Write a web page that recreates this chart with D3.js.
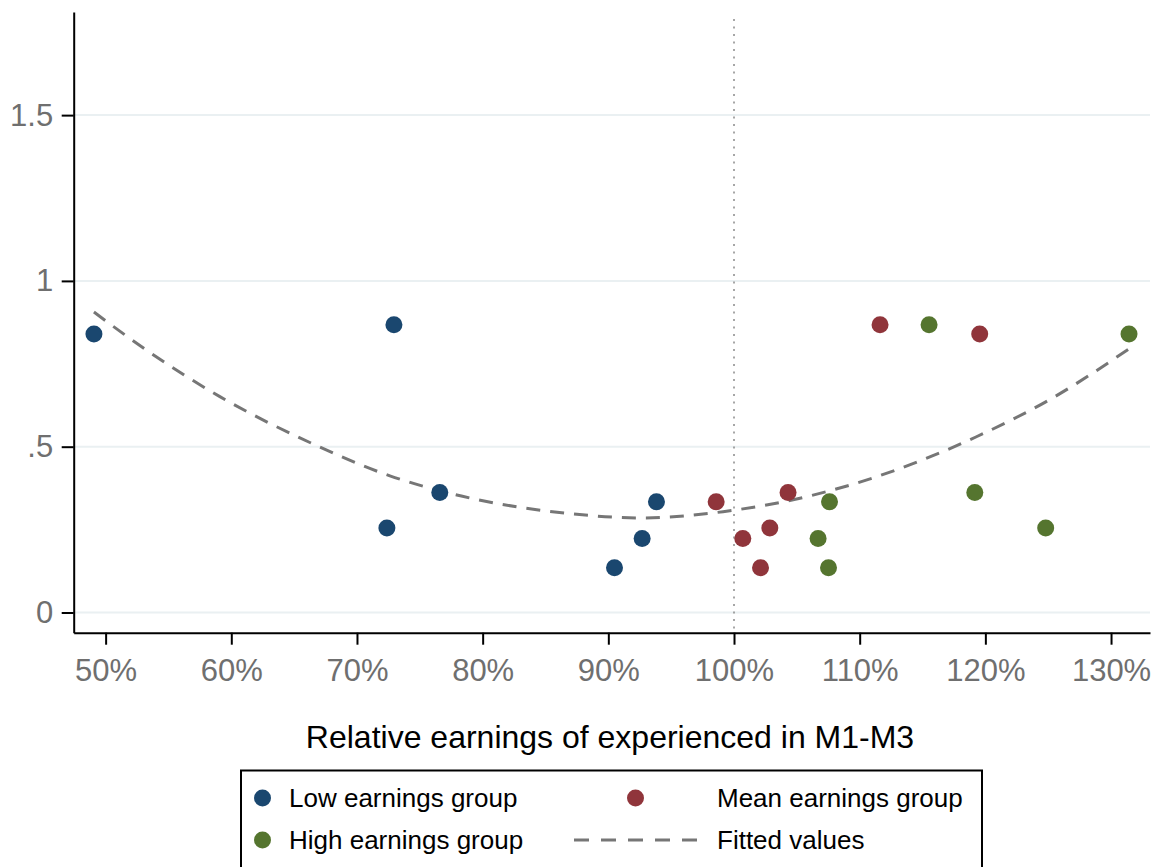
<!DOCTYPE html>
<html>
<head>
<meta charset="utf-8">
<script src="https://cdn.jsdelivr.net/npm/d3@7"></script>
<style>
  body { margin: 0; background: #fff; }
  svg { display: block; font-family: "Liberation Sans", Arial, sans-serif; }
</style>
</head>
<body>
<svg id="chart" width="1169" height="867"></svg>
<script>
// values (x in %, y as plotted)
var lowX  = [49.07, 72.94, 72.38, 76.59, 90.49, 92.69, 93.83];
var lowY  = [0.840, 0.868, 0.255, 0.362, 0.135, 0.223, 0.334];
var meanX = [98.58, 100.70, 102.11, 102.85, 104.30, 111.62, 119.55];
var meanY = [0.334, 0.223, 0.135, 0.255, 0.362, 0.868, 0.840];
var highX = [107.60, 106.69, 107.52, 124.80, 119.16, 115.52, 131.43];
var highY = [0.334, 0.223, 0.135, 0.255, 0.362, 0.868, 0.840];

var fitX = [49.07, 53.26, 59.09, 66.52, 72.62, 77.13, 87.20, 92.77, 99.13, 106.29, 111.07, 119.29, 125.12, 131.43];
var fitY = [0.906, 0.791, 0.651, 0.508, 0.412, 0.362, 0.297, 0.285, 0.304, 0.354, 0.406, 0.530, 0.642, 0.795];

var xTicks = [50, 60, 70, 80, 90, 100, 110, 120, 130];
var yTicks = [0, 0.5, 1, 1.5];
var yTickLabels = ["0", ".5", "1", "1.5"];
var refLine = 100;

var xTitle = "Relative earnings of experienced in M1-M3";
var legendLabels = ["Low earnings group", "Mean earnings group", "High earnings group", "Fitted values"];

var colLow = "#1a476f", colMean = "#90353b", colHigh = "#55752f", colFit = "#767676";

var svg = d3.select("#chart");

var x = d3.scaleLinear().domain([47.46, 133.1]).range([73.7, 1150]);
var y = d3.scaleLinear().domain([-0.061, 1.811]).range([632.7, 12]);

// grid lines
svg.append("g").selectAll("line").data(yTicks).enter().append("line")
	.attr("x1", x.range()[0]).attr("x2", x.range()[1])
	.attr("y1", function (d) { return y(d); })
	.attr("y2", function (d) { return y(d); })
	.attr("stroke", "#eaf0f2").attr("stroke-width", 2);

// reference line at 100%
svg.append("line")
	.attr("x1", x(refLine)).attr("x2", x(refLine))
	.attr("y1", y(1.79)).attr("y2", y.range()[0])
	.attr("stroke", "#8a8a8a").attr("stroke-width", 1.5)
	.attr("stroke-dasharray", "2 5.5");

// fitted curve
var fitData = fitX.map(function (v, i) { return [v, fitY[i]]; });
svg.append("path")
	.datum(fitData)
	.attr("fill", "none")
	.attr("stroke", colFit).attr("stroke-width", 3)
	.attr("stroke-dasharray", "14 10")
	.attr("d", d3.line().curve(d3.curveMonotoneX)
		.x(function (d) { return x(d[0]); })
		.y(function (d) { return y(d[1]); }));

function drawPoints(xs, ys, color) {
	var pts = xs.map(function (v, i) { return [v, ys[i]]; });
	svg.append("g").selectAll("circle").data(pts).enter().append("circle")
		.attr("cx", function (d) { return x(d[0]); })
		.attr("cy", function (d) { return y(d[1]); })
		.attr("r", 8.5)
		.attr("fill", color);
}
drawPoints(lowX, lowY, colLow);
drawPoints(meanX, meanY, colMean);
drawPoints(highX, highY, colHigh);

// axes
var xAxis = svg.append("g")
	.attr("transform", "translate(0," + y.range()[0] + ")")
	.call(d3.axisBottom(x).tickValues(xTicks)
		.tickFormat(function (d) { return d + "%"; })
		.tickSize(12).tickSizeOuter(0).tickPadding(14));

var yAxis = svg.append("g")
	.attr("transform", "translate(" + x.range()[0] + ",0)")
	.call(d3.axisLeft(y).tickValues(yTicks)
		.tickFormat(function (d, i) { return yTickLabels[i]; })
		.tickSize(12).tickSizeOuter(0).tickPadding(8.5));

[xAxis, yAxis].forEach(function (ax) {
	ax.select(".domain").attr("stroke", "#000").attr("stroke-width", 2);
	ax.selectAll(".tick line").attr("stroke", "#000").attr("stroke-width", 2);
	ax.selectAll(".tick text")
		.attr("fill", "#6f6f6f")
		.style("font-size", "31px")
		.style("font-family", "'Liberation Sans', Arial, sans-serif");
});

// axis title
svg.append("text")
	.attr("x", 610).attr("y", 748)
	.attr("text-anchor", "middle")
	.style("font-size", "32px")
	.attr("fill", "#000")
	.text(xTitle);

// legend
var legend = svg.append("g");
legend.append("rect")
	.attr("x", 241).attr("y", 770.5)
	.attr("width", 741).attr("height", 120)
	.attr("fill", "#fff").attr("stroke", "#000").attr("stroke-width", 2);

var legendItems = [
	{ label: legendLabels[0], color: colLow,  kind: "dot",  mx: 262.5, tx: 289, cy: 798 },
	{ label: legendLabels[1], color: colMean, kind: "dot",  mx: 635.5, tx: 717, cy: 798 },
	{ label: legendLabels[2], color: colHigh, kind: "dot",  mx: 262.5, tx: 289, cy: 840 },
	{ label: legendLabels[3], color: colFit,  kind: "line", mx: 574,   tx: 717, cy: 840 }
];

legendItems.forEach(function (it) {
	if (it.kind === "dot") {
		legend.append("circle")
			.attr("cx", it.mx).attr("cy", it.cy).attr("r", 8.5)
			.attr("fill", it.color);
	} else {
		legend.append("line")
			.attr("x1", it.mx).attr("x2", it.mx + 124)
			.attr("y1", it.cy).attr("y2", it.cy)
			.attr("stroke", it.color).attr("stroke-width", 3)
			.attr("stroke-dasharray", "15 12");
	}
	legend.append("text")
		.attr("x", it.tx).attr("y", it.cy + 9)
		.style("font-size", "26px")
		.attr("fill", "#000")
		.text(it.label);
});
</script>
</body>
</html>
